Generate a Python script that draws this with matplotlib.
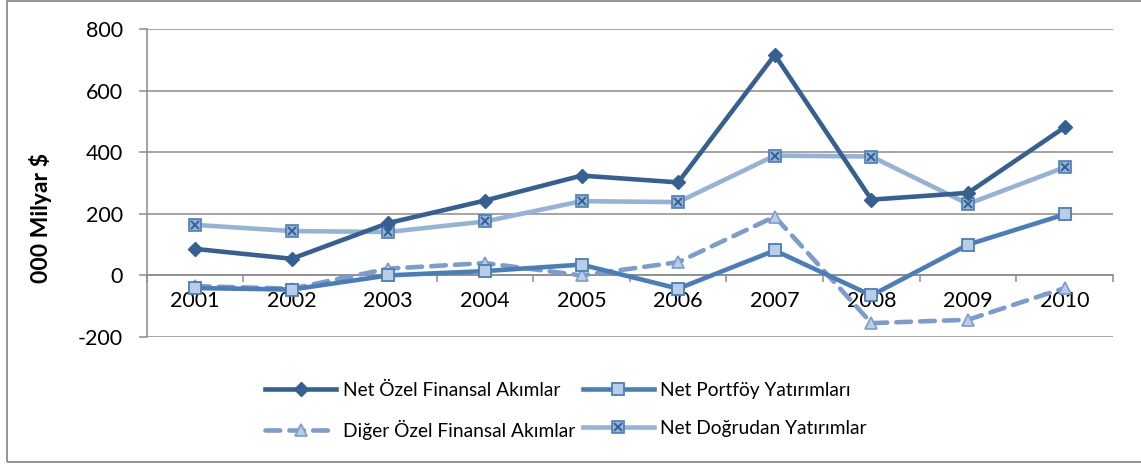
import matplotlib
matplotlib.use("Agg")
import matplotlib.pyplot as plt
from matplotlib.patches import Rectangle
from matplotlib.legend_handler import HandlerTuple
import numpy as np

years = ["2001", "2002", "2003", "2004", "2005", "2006", "2007", "2008", "2009", "2010"]
net_ozel = [86, 54, 170, 243, 324, 302, 716, 246, 268, 481]
net_portfoy = [-41, -46, 0, 14, 35, -43, 81, -65, 100, 198]
diger_ozel = [-35, -43, 22, 40, 0, 43, 191, -155, -144, -41]
net_dogrudan = [164, 144, 141, 175, 241, 238, 389, 386, 232, 351]
yticks = [-200, 0, 200, 400, 600, 800]

labels = ["Net Özel Finansal Akımlar", "Net Portföy Yatırımları",
          "Diğer Özel Finansal Akımlar", "Net Doğrudan Yatırımlar"]
ylabel = "000 Milyar $"

plt.rcParams['font.family'] = ['Lato', 'DejaVu Sans']

W, H = 1141, 465
fig = plt.figure(figsize=(W / 100, H / 100), dpi=100)
ax = fig.add_axes([146.7 / W, 1 - 337 / H, (1113 - 146.7) / W, (337 - 29) / H])

x = np.arange(len(years))
c_dark = "#376092"
c_port = "#4A7EBB"
c_dig = "#7C9CCE"
c_dog = "#95B3D7"
c_face = "#B9CDE5"
lw = 3.3

l1, = ax.plot(x, net_ozel, color=c_dark, lw=lw, marker="D", ms=7,
              mfc=c_dark, mec=c_dark, zorder=5)
l2, = ax.plot(x, net_portfoy, color=c_port, lw=lw, marker="s", ms=9,
              mfc=c_face, mec=c_port, mew=1.3, zorder=4)
l3, = ax.plot(x, diger_ozel, color=c_dig, lw=lw, ls=(0, (3.2, 2.0)), marker="^",
              ms=9, mfc=c_face, mec=c_dig, mew=1.2, dash_capstyle="round", zorder=3)
l4, = ax.plot(x, net_dogrudan, color=c_dog, lw=lw, marker="s", ms=8,
              mfc=c_dog, mec=c_port, mew=1.2, zorder=4)
l4x, = ax.plot(x, net_dogrudan, ls="none", marker="x", ms=5.5, mec="#376092",
               mew=1.4, zorder=6)

ax.set_xlim(-0.5, len(years) - 0.5)
ax.set_ylim(-200, 800)
ax.set_yticks(yticks)
ax.set_yticklabels([str(v) for v in yticks])
ax.set_xticks(x)
ax.set_xticklabels(years)
ax.set_xticks(np.arange(-0.5, len(years)), minor=True)

ax.grid(axis="y", color="#8C8C8C", lw=1.1)
ax.set_axisbelow(True)
for s in ["top", "right"]:
    ax.spines[s].set_visible(False)
ax.spines["left"].set_color("#8C8C8C")
ax.spines["left"].set_linewidth(1.1)
ax.spines["bottom"].set_position(("data", 0))
ax.spines["bottom"].set_color("#8C8C8C")
ax.spines["bottom"].set_linewidth(1.1)
ax.tick_params(axis="y", length=6, width=1.1, color="#8C8C8C", pad=11, labelsize=15.5)
ax.tick_params(axis="x", which="major", length=0, pad=11.5, labelsize=15.5)
ax.tick_params(axis="x", which="minor", length=5, width=1.1, color="#8C8C8C",
               direction="out")

fig.text(40 / W, 1 - 218 / H, ylabel, rotation=90, fontsize=16.5, fontweight="bold",
         ha="center", va="center")

order = [0, 2, 1, 3]
handles = [l1, l2, l3, (l4, l4x)]
leg = fig.legend([handles[i] for i in order], [labels[i] for i in order], ncol=2,
                 loc="center", bbox_to_anchor=(566 / W, 1 - 411 / H),
                 frameon=False, fontsize=13.8, handlelength=3.7, handletextpad=0.35,
                 columnspacing=0.4, labelspacing=1.1,
                 handler_map={tuple: HandlerTuple(ndivide=1)})

fig.patches.append(Rectangle((7 / W, 1 - 461.5 / H), 1.2, (461.5 - 0.8) / H,
                             transform=fig.transFigure, fill=False,
                             edgecolor="#8C8C8C", lw=1.3))

fig.savefig("out.png", dpi=100)
